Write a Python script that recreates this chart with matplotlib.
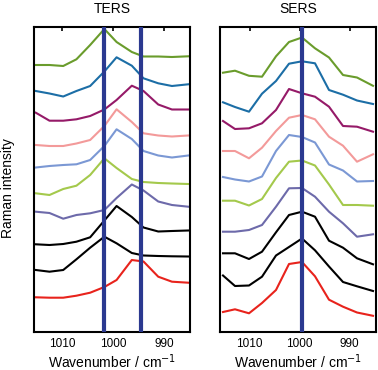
import matplotlib
matplotlib.use("Agg")
import matplotlib.pyplot as plt

plt.rcParams['font.family'] = ['Liberation Sans', 'DejaVu Sans']

# wavenumber positions of the spectral points (cm-1)
ters_x = [1015.2, 1012.5, 1009.8, 1007.2, 1004.5, 1001.7, 999.3, 996.3, 994.0, 991.1, 988.4, 985.2]
sers_x = [1015.3, 1012.9, 1010.1, 1007.5, 1004.7, 1002.1, 999.5, 996.9, 994.1, 991.3, 988.5, 985.3]

# stacked spectra, top to bottom (offset intensity, arb. units)
ters_green = [275, 275, 274, 280.7, 295, 311, 298, 288, 283.5, 283.5, 283, 283.7]
ters_blue = [249, 246.5, 243.5, 249, 254, 268.5, 282.7, 274.3, 261.7, 256.7, 254, 255.7]
ters_magenta = [227.3, 219.3, 219.3, 220.7, 224, 230.5, 240, 254.3, 249, 235.5, 230.5, 230.5]
ters_pink = [195, 194, 194, 196.5, 200, 214, 230.7, 218, 206.7, 204.5, 203.5, 204.5]
ters_ltblue = [172.5, 174, 175, 175.7, 180, 194, 210.7, 201, 189, 184.5, 182.5, 184.5]
ters_lime = [146.7, 145, 151, 154.3, 165, 181.7, 172, 161, 158, 157, 156.5, 156]
ters_slate = [128.3, 127, 121.3, 125, 126.7, 130, 142, 155.5, 149.5, 138.5, 135, 133.3]
ters_black1 = [95.7, 95, 96, 98.3, 102.7, 119.5, 134, 123, 112.5, 108.5, 109, 109.5]
ters_black2 = [70, 68.3, 70, 80.7, 92.3, 103.3, 96.7, 87, 84.5, 84, 83.7, 83.5]
ters_red = [42.7, 42.3, 42.3, 44.3, 47.3, 53, 60, 80, 78.5, 63.3, 58.3, 57.3]

sers_green = [267.3, 269.3, 264.2, 263.3, 283.7, 298, 302.5, 291.7, 282.5, 265, 262.5, 254.2]
sers_blue = [237.7, 233, 228.3, 246.3, 259, 276.3, 278.7, 276.7, 250, 245.3, 239.5, 236]
sers_magenta = [219, 211, 211.7, 216.7, 230, 251, 246.7, 243.3, 233.3, 214, 213.3, 208.3]
sers_pink = [189, 189, 181.7, 192.3, 209, 222.3, 225, 220.7, 203.3, 194.3, 178.3, 185.7]
sers_ltblue = [163, 160.5, 158.5, 163.5, 189, 205, 203, 197.5, 175.5, 169.5, 158.5, 159]
sers_lime = [139.3, 139.3, 134.5, 141, 162, 178.3, 179.5, 174.5, 155.5, 135, 135, 134.3]
sers_slate = [108.3, 108.3, 110, 115, 133.3, 151.7, 152, 143.3, 128.3, 116.7, 103.3, 105.7]
sers_black1 = [86.7, 86.7, 81, 88.3, 107.7, 125, 128.3, 123.3, 99.3, 92.3, 81.7, 75.7]
sers_black2 = [64.5, 54, 54.5, 63.3, 84.5, 93, 101.5, 89.7, 73.5, 58, 53.7, 49]
sers_red = [28, 30.7, 26.7, 37, 50, 76, 78, 63.7, 40.3, 33.3, 27.5, 24.2]

ters_lines = [1001.8, 994.4]
sers_lines = [999.5]
ticks = [1010, 1000, 990]

colors = ['#6a9c2c', '#1c6ea6', '#951a68', '#f39a9a', '#7b98d4',
          '#a4c94c', '#6d6aaa', 'black', 'black', '#e8231c']

ters = [ters_green, ters_blue, ters_magenta, ters_pink, ters_ltblue,
        ters_lime, ters_slate, ters_black1, ters_black2, ters_red]
sers = [sers_green, sers_blue, sers_magenta, sers_pink, sers_ltblue,
        sers_lime, sers_slate, sers_black1, sers_black2, sers_red]

fig = plt.figure(figsize=(3.78, 3.70), dpi=100)
ax1 = fig.add_axes([34/378, 38/370, 156/378, 305/370])
ax2 = fig.add_axes([220/378, 38/370, 156/378, 305/370])

for ax, xs, spectra, vlines, title, lims in [
        (ax1, ters_x, ters, ters_lines, 'TERS', (1015.55, 984.85)),
        (ax2, sers_x, sers, sers_lines, 'SERS', (1015.9, 984.7))]:
    for y, c in zip(spectra, colors):
        ax.plot(xs, y, color=c, lw=1.5)
    for v in vlines:
        ax.axvline(v, color='#2b3990', lw=3, zorder=5)
    ax.set_xlim(*lims)
    ax.set_ylim(8, 313)
    ax.set_xticks(ticks)
    ax.set_xticklabels([str(t) for t in ticks], fontsize=8.5)
    ax.set_yticks([])
    ax.tick_params(axis='x', top=True, bottom=False, direction='in',
                   length=3, width=1.2, pad=4)
    for s in ax.spines.values():
        s.set_linewidth(1.5)
    ax.set_title(title, fontsize=10, pad=10)
    ax.set_xlabel('Wavenumber / cm$^{-1}$', fontsize=10, labelpad=2)

fig.text(8/378, 182/370, 'Raman intensity', rotation=90, fontsize=10,
         ha='center', va='center')

fig.savefig('out.png', dpi=100)
